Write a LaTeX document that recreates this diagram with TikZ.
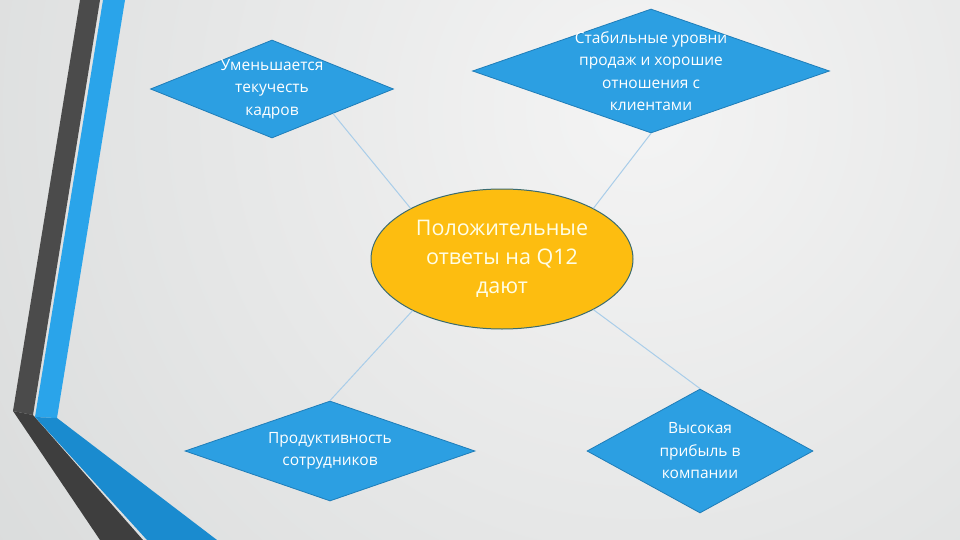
\documentclass[tikz,border=0pt]{standalone}
\usepackage{fontspec}
\setmainfont{Open Sans}
\usetikzlibrary{shapes.geometric}
\definecolor{bgLight}{HTML}{F4F4F4}
\definecolor{bgDark}{HTML}{BCC0C0}
\definecolor{stripeGray}{HTML}{4B4B4B}
\definecolor{stripeGrayDark}{HTML}{3E3E3E}
\definecolor{stripeBlue}{HTML}{2AA4EA}
\definecolor{stripeBlueDark}{HTML}{1A8BCF}
\definecolor{leafBlue}{HTML}{2C9FE2}
\definecolor{leafEdge}{HTML}{1F7DB8}
\definecolor{coreFill}{HTML}{FDBD10}
\definecolor{coreEdge}{HTML}{3A6B70}
\definecolor{linkBlue}{HTML}{A9CDE9}
\begin{document}
\begin{tikzpicture}[x=1pt,y=-1pt,
    leaf/.style={diamond,draw=leafEdge,fill=leafBlue,line width=0.8pt,inner sep=0pt},
    leaftext/.style={text=white,align=center,font=\fontsize{15.5}{22.5}\selectfont},
    core/.style={ellipse,draw=coreEdge,fill=coreFill,line width=1pt,inner sep=0pt,
        minimum width=262pt,minimum height=140pt,text=white!90!yellow,align=center,
        font=\fontsize{21.5}{29}\selectfont},
    link/.style={draw=linkBlue,line width=1pt}]
                \useasboundingbox (0,0) rectangle (960,540);
                % background
                \begin{scope}
                    \clip (0,0) rectangle (960,540);
                    \shade[inner color=bgLight,outer color=bgDark] (640,110) circle (1700pt);
                \end{scope}
                % stripes on the left
                \fill[stripeGray] (80,0) -- (100,0) -- (33,415) -- (13,411) -- cycle;
                \fill[stripeGrayDark] (13,411) -- (33,415) -- (143,540) -- (100,540) -- cycle;
                \fill[stripeBlue] (103,0) -- (125,0) -- (57,418) -- (35,417) -- cycle;
                \fill[stripeBlueDark] (35,417) -- (57,418) -- (217,540) -- (147,540) -- cycle;
                % centre and leaves
                \node[core] (core) at (502,259) {Положительные\\ответы на Q12\\дают};
                \node[leaf,minimum width=243pt,minimum height=98pt,
                    label={[leaftext]center:{Уменьшается\\текучесть\\кадров}}] (staff) at (272,89) {};
                \node[leaf,minimum width=357pt,minimum height=124pt,
                    label={[leaftext]center:{Стабильные уровни\\продаж и хорошие\\отношения с\\клиентами}}] (sales) at (651,71) {};
                \node[leaf,minimum width=290pt,minimum height=100pt,
                    label={[leaftext]center:{Продуктивность\\сотрудников}}] (work) at (330,451) {};
                \node[leaf,minimum width=226pt,minimum height=124pt,
                    label={[leaftext]center:{Высокая\\прибыль в\\компании}}] (profit) at (700,451) {};
                % links
                \draw[link] (staff.-22) -- (core.151);
                \draw[link] (sales.south) -- (core.29);
                \draw[link] (core.-150) -- (work.north);
                \draw[link] (core.-29) -- (profit.north);
            \end{tikzpicture}
\end{document}
